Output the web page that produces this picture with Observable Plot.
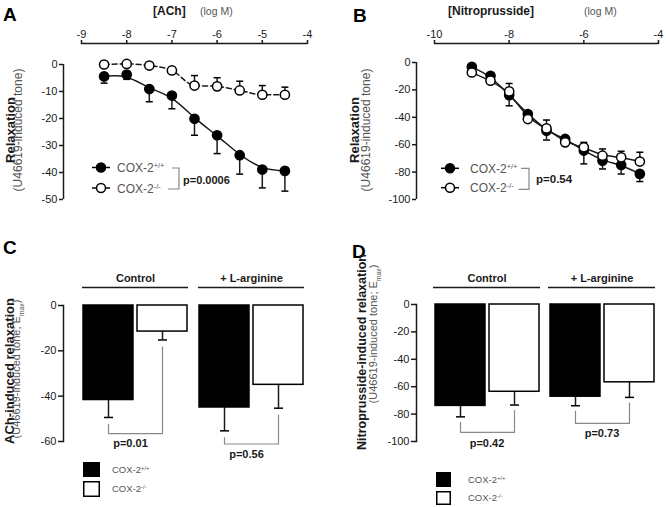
<!DOCTYPE html>
<html>
<head>
<meta charset="utf-8">
<script src="https://cdn.jsdelivr.net/npm/d3@7"></script>
<script src="https://cdn.jsdelivr.net/npm/@observablehq/plot@0.6"></script>
<style>
  html,body{margin:0;padding:0;background:#fff;}
  #fig{position:relative;width:666px;height:507px;overflow:hidden;font-family:"Liberation Sans",Arial,Helvetica,sans-serif;color:#111;}
  .panel{position:absolute;}
  .panel svg{overflow:visible;display:block;}
  #ov{position:absolute;left:0;top:0;font-family:"Liberation Sans",Arial,Helvetica,sans-serif;}
</style>
</head>
<body>
<div id="fig"></div>
<script>
// ---------- Panel A: ACh concentration-response ----------
const achLogM   = [-8.5, -8, -7.5, -7, -6.5, -6, -5.5, -5, -4.5];
const achWT     = [-4.4, -3.7, -9.1, -11.5, -20.1, -26.2, -33.6, -38.9, -39.4];
const achWTsem  = [2.5, 1.8, 4.7, 4.9, 6.1, 6.8, 7.0, 6.8, 7.5];
const achKO     = [0, 0.2, -0.4, -2.2, -7.8, -8.1, -9.6, -11.2, -11.2];
const achKOsem  = [0.8, 0.8, 0.8, 1.2, 3.7, 3.2, 3.4, 3.4, 2.8];
const achXTicks = [-9, -8, -7, -6, -5, -4];
const achYTicks = [0, -10, -20, -30, -40, -50];

// ---------- Panel B: Nitroprusside concentration-response ----------
const npLogM   = [-9, -8.5, -8, -7.5, -7, -6.5, -6, -5.5, -5, -4.5];
const npWT     = [-3.2, -9.7, -23.8, -37.6, -49.8, -55.8, -64.3, -71.6, -74.8, -81.3];
const npWTsem  = [1.5, 2, 7.8, 4, 6.8, 3, 9.7, 6.1, 6.6, 5.6];
const npKO     = [-7.3, -13.3, -21.1, -41.3, -48.1, -58.3, -61.9, -68, -69.2, -72.3];
const npKOsem  = [1.5, 2, 5.8, 3, 6.1, 3, 3.6, 4.9, 4.4, 6.8];
const npXTicks = [-10, -8, -6, -4];
const npYTicks = [0, -20, -40, -60, -80, -100];

// ---------- Panels C/D: Emax ----------
const groups    = ["Control", "+ L-arginine"];
const genotypes = ["COX-2+/+", "COX-2-/-"];
const achEmax    = [-41.7, -11.5, -45.0, -35.0];
const achEmaxSem = [7.7, 3.7, 10.3, 10.3];
const achP       = ["p=0.01", "p=0.56"];
const achEmaxTicks = [0, -20, -40, -60];
const npEmax    = [-74.0, -63.7, -67.3, -56.8];
const npEmaxSem = [8.0, 9.7, 6.6, 11.0];
const npP       = ["p=0.42", "p=0.73"];
const npEmaxTicks = [0, -20, -40, -60, -80, -100];

// ---------- helpers ----------
const fig = document.getElementById("fig");
const FONT = '"Liberation Sans", Arial, Helvetica, sans-serif';
const fmt = d => String(d);
const cap = {draw(ctx, size) { const w = Math.sqrt(size / Math.PI); ctx.moveTo(-w, 0); ctx.lineTo(w, 0); }};
const baseStyle = {background: "transparent", fontFamily: FONT, fontSize: "11px", color: "#1a1a1a", overflow: "visible"};

function place(node, left, top) {
  const d = document.createElement("div");
  d.className = "panel";
  d.style.left = left + "px"; d.style.top = top + "px";
  d.appendChild(node); fig.appendChild(d);
}

function curvePanel({x, wt, wtSem, ko, koSem, xDomain, xTicks, xRange, yDomain, yTicks, yRange, marginLeft, marginTop, koDashed}) {
  const rows = x.map((v, i) => ({x: v, wt: wt[i], wtLo: wt[i] - wtSem[i], ko: ko[i], koHi: ko[i] + koSem[i]}));
  const koLine = koDashed
    ? {x: "x", y: "ko", curve: "monotone-x", strokeWidth: 1.5, strokeDasharray: "5,3"}
    : {x: "x", y: "ko", curve: "basis", strokeWidth: 1.5};
  return Plot.plot({
    width: 333, height: 250, marginLeft, marginTop,
    marginRight: 333 - xRange[1], marginBottom: 250 - yRange[0],
    style: baseStyle,
    x: {domain: xDomain, range: xRange, axis: null},
    y: {domain: yDomain, range: yRange, axis: null},
    marks: [
      Plot.ruleY([yDomain[1]], {x1: xDomain[0], x2: xDomain[1], dy: marginTop - yRange[1], strokeWidth: 1.5}),
      Plot.axisX({anchor: "top", ticks: xTicks, tickFormat: fmt, tickSize: 4, tickPadding: 2, strokeWidth: 1.5, label: null}),
      Plot.ruleX([xDomain[0]], {y1: yDomain[0], y2: yDomain[1], dx: marginLeft - xRange[0], strokeWidth: 1.5}),
      Plot.axisY({anchor: "left", ticks: yTicks, tickFormat: fmt, tickSize: 4, tickPadding: 2, strokeWidth: 1.5, label: null}),
      Plot.line(rows, {x: "x", y: "wt", curve: "basis", strokeWidth: 1.5}),
      Plot.line(rows, koLine),
      Plot.ruleX(rows, {x: "x", y1: "wt", y2: "wtLo", strokeWidth: 1.5}),
      Plot.dot(rows, {x: "x", y: "wtLo", symbol: cap, r: 3.5, stroke: "black", fill: "none", strokeWidth: 1.5}),
      Plot.ruleX(rows, {x: "x", y1: "ko", y2: "koHi", strokeWidth: 1.5}),
      Plot.dot(rows, {x: "x", y: "koHi", symbol: cap, r: 3.5, stroke: "black", fill: "none", strokeWidth: 1.5}),
      Plot.dot(rows, {x: "x", y: "wt", r: 4.6, fill: "black", stroke: "black", strokeWidth: 1.5}),
      Plot.dot(rows, {x: "x", y: "ko", r: 4.6, fill: "white", stroke: "black", strokeWidth: 1.5})
    ]
  });
}

function barPanel({values, sems, pLabels, yDomain, yTicks, marginLeft, marginRight, marginTop, marginBottom, fxGap, axisX, headerY, bracketLevel, pLabelY, gap, headerPad, pDx}) {
  const rows = values.map((v, i) => ({group: groups[Math.floor(i / 2)], geno: genotypes[i % 2], v, lo: v - sems[i]}));
  const bracket = groups.flatMap((g, k) => {
    const [a, b] = rows.filter(r => r.group === g);
    return [
      {group: g, geno: a.geno, y: a.lo - gap},
      {group: g, geno: a.geno, y: bracketLevel[k]},
      {group: g, geno: b.geno, y: bracketLevel[k]},
      {group: g, geno: b.geno, y: b.lo - gap}
    ];
  });
  const pRows = groups.map((g, k) => ({group: g, p: pLabels[k], y: pLabelY[k]}));
  const W = 333, H = 257;
  const step = (W - marginLeft - marginRight + fxGap) / 2;
  return Plot.plot({
    width: W, height: H, marginLeft, marginRight, marginTop, marginBottom,
    style: baseStyle,
    fx: {domain: groups, paddingInner: fxGap / step, paddingOuter: 0, axis: null, label: null},
    x: {domain: genotypes, paddingInner: 0.075, paddingOuter: 0.015, axis: null},
    y: {domain: yDomain, axis: null},
    color: {type: "identity"},
    marks: [
      Plot.axisFx({anchor: "top", tickSize: 0, tickPadding: headerPad, fontWeight: "bold", fontSize: 11, label: null}),
      Plot.ruleY([yDomain[1]], {dy: headerY - marginTop, strokeWidth: 1.5}),
      Plot.frame({anchor: "left", facetAnchor: "left", dx: axisX - marginLeft, strokeWidth: 1.5}),
      Plot.axisY({anchor: "left", ticks: yTicks, tickFormat: fmt, tickSize: 5, tickPadding: 2, dx: axisX - marginLeft, strokeWidth: 1.5, label: null}),
      Plot.ruleX(rows, {fx: "group", x: "geno", y1: "v", y2: "lo", strokeWidth: 1.5}),
      Plot.dot(rows, {fx: "group", x: "geno", y: "lo", symbol: cap, r: 4.5, stroke: "black", fill: "none", strokeWidth: 1.5}),
      Plot.barY(rows, {fx: "group", x: "geno", y1: 0, y2: "v", fill: d => d.geno === genotypes[0] ? "black" : "white", stroke: "black", strokeWidth: 1.5}),
      Plot.line(bracket, {fx: "group", x: "geno", y: "y", stroke: "#8a8a8a", strokeWidth: 1.2}),
      Plot.text(pRows, {fx: "group", y: "y", text: "p", dx: pDx, fontWeight: "bold", fontSize: 11, fill: "#1a1a1a"})
    ]
  });
}

// ---------- build panels ----------
place(curvePanel({
  x: achLogM, wt: achWT, wtSem: achWTsem, ko: achKO, koSem: achKOsem,
  xDomain: [-9, -4], xTicks: achXTicks, xRange: [81, 307],
  yDomain: [-50, 0], yTicks: achYTicks, yRange: [199, 64],
  marginLeft: 63, marginTop: 43, koDashed: true
}), 0, 0);

place(curvePanel({
  x: npLogM, wt: npWT, wtSem: npWTsem, ko: npKO, koSem: npKOsem,
  xDomain: [-10, -4], xTicks: npXTicks, xRange: [101, 325],
  yDomain: [-100, 0], yTicks: npYTicks, yRange: [199, 62],
  marginLeft: 83, marginTop: 43, koDashed: false
}), 333, 0);

place(barPanel({
  values: achEmax, sems: achEmaxSem, pLabels: achP,
  yDomain: [-60, 0], yTicks: achEmaxTicks,
  marginLeft: 82, marginRight: 28, marginTop: 55, marginBottom: 66, fxGap: 10,
  axisX: 63, headerY: 37, headerPad: 24,
  bracketLevel: [-56.5, -61.1], pLabelY: [-61, -65.9], gap: 3, pDx: -5
}), 0, 250);

place(barPanel({
  values: npEmax, sems: npEmaxSem, pLabels: npP,
  yDomain: [-100, 0], yTicks: npEmaxTicks,
  marginLeft: 100, marginRight: 10, marginTop: 54, marginBottom: 66, fxGap: 8,
  axisX: 83, headerY: 37, headerPad: 23,
  bracketLevel: [-93.4, -86.8], pLabelY: [-101.7, -94.4], gap: 4, pDx: 0
}), 333, 250);

// ---------- annotation overlay: panel letters, titles, axis labels, legends ----------
const SUPP = (s) => `COX-2<tspan baseline-shift="super" font-size="0.62em">${s}</tspan>`;
const EMAX = `(U46619-induced tone; E<tspan baseline-shift="sub" font-size="0.62em">max</tspan>)`;
const ov = document.createElementNS("http://www.w3.org/2000/svg", "svg");
ov.setAttribute("id", "ov");
ov.setAttribute("width", 666); ov.setAttribute("height", 507);
ov.innerHTML = `
  <g font-weight="bold" font-size="19" fill="#000">
    <text x="3" y="21">A</text>
    <text x="353" y="22">B</text>
    <text x="3" y="254">C</text>
    <text x="352" y="258">D</text>
  </g>
  <text x="153" y="14.5" font-size="12" font-weight="bold" fill="#1a1a1a">[ACh]</text>
  <text x="200" y="14.5" font-size="10.5" fill="#555">(log M)</text>
  <text x="448" y="14.5" font-size="12" font-weight="bold" fill="#1a1a1a">[Nitroprusside]</text>
  <text x="584" y="14.5" font-size="10.5" fill="#555">(log M)</text>

  <g text-anchor="middle">
    <text transform="translate(14.5,130) rotate(-90)" font-size="13" font-weight="bold" fill="#1a1a1a">Relaxation</text>
    <text transform="translate(21.5,130) rotate(-90)" font-size="12" fill="#555">(U46619-induced tone)</text>
    <text transform="translate(359,130) rotate(-90)" font-size="13" font-weight="bold" fill="#1a1a1a">Relaxation</text>
    <text transform="translate(369.5,130) rotate(-90)" font-size="12" fill="#555">(U46619-induced tone)</text>
    <text transform="translate(13.5,371) rotate(-90)" font-size="13" font-weight="bold" fill="#1a1a1a">ACh-induced relaxation</text>
    <text transform="translate(20,369) rotate(-90)" font-size="11" fill="#555">${EMAX}</text>
    <text transform="translate(365.5,352) rotate(-90)" font-size="12.5" font-weight="bold" fill="#1a1a1a">Nitroprusside-induced relaxation</text>
    <text transform="translate(377,334) rotate(-90)" font-size="11" fill="#555">${EMAX}</text>
  </g>

  <g stroke="#000" stroke-width="1.5">
    <line x1="92" y1="167.5" x2="110" y2="167.5"/><circle cx="101" cy="167.5" r="4.5" fill="#000"/>
    <line x1="92" y1="188" x2="110" y2="188"/><circle cx="101" cy="188" r="4.5" fill="#fff"/>
    <line x1="441" y1="168.3" x2="459" y2="168.3"/><circle cx="450" cy="168.3" r="4.5" fill="#000"/>
    <line x1="441" y1="187.7" x2="459" y2="187.7"/><circle cx="450" cy="187.7" r="4.5" fill="#fff"/>
  </g>
  <g fill="none" stroke="#888" stroke-width="1.2">
    <path d="M172,168H179V189H168"/>
    <path d="M521,168.3H529V189.3H518.5"/>
  </g>
  <g font-size="12" fill="#555">
    <text x="117" y="172">${SUPP("+/+")}</text>
    <text x="117" y="192.5">${SUPP("-/-")}</text>
    <text x="470" y="172.5">${SUPP("+/+")}</text>
    <text x="470" y="192.3">${SUPP("-/-")}</text>
  </g>
  <text x="183" y="183.5" font-size="11" font-weight="bold" fill="#1a1a1a">p=0.0006</text>
  <text x="536" y="182.5" font-size="11.5" font-weight="bold" fill="#1a1a1a">p=0.54</text>

  <g stroke="#000" stroke-width="1.5">
    <rect x="83.75" y="462.75" width="15.5" height="13.5" fill="#000"/>
    <rect x="83.75" y="481.75" width="15.5" height="14.5" fill="#fff"/>
    <rect x="436.75" y="472.75" width="13.5" height="13.5" fill="#000"/>
    <rect x="436.75" y="491.75" width="13.5" height="12.5" fill="#fff"/>
  </g>
  <g font-size="9.5" fill="#555">
    <text x="112" y="472.5">${SUPP("+/+")}</text>
    <text x="112" y="492">${SUPP("-/-")}</text>
    <text x="468" y="482.5">${SUPP("+/+")}</text>
    <text x="468" y="501">${SUPP("-/-")}</text>
  </g>`;
fig.appendChild(ov);
</script>
</body>
</html>
